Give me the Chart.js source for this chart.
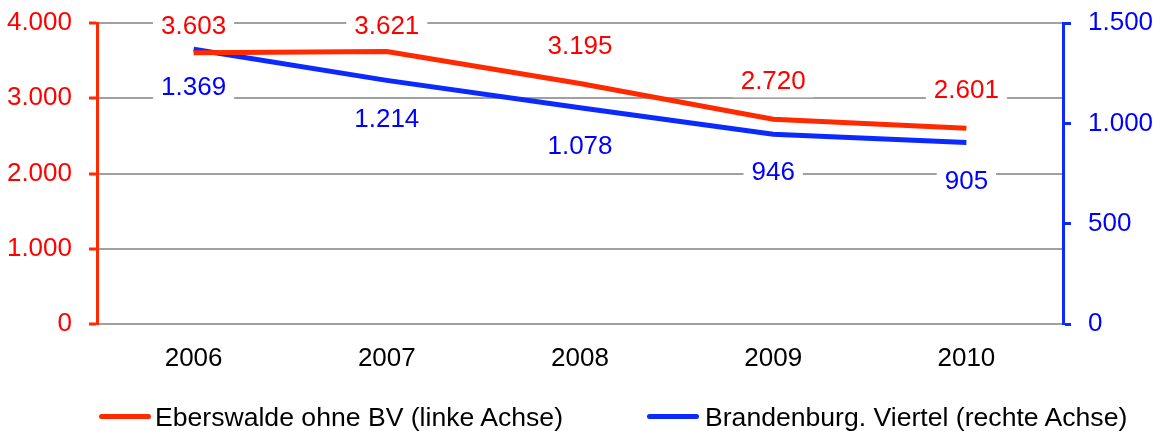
<!DOCTYPE html>
<html>
<head>
<meta charset="utf-8">
<script src="https://cdn.jsdelivr.net/npm/chart.js@4/dist/chart.umd.min.js"></script>
<style>
  html, body { margin: 0; padding: 0; background: #fff; }
  #wrap { position: relative; width: 1155px; height: 431px; }
  .legend-line { position: absolute; top: 414px; width: 52px; height: 5px; border-radius: 3px; }
  .legend-text { position: absolute; top: 403px; font: 26.6px "Liberation Sans", Arial, sans-serif; color: #000; line-height: 28px; white-space: nowrap; }
</style>
</head>
<body>
<div id="wrap">
  <canvas id="chart" width="1155" height="431"></canvas>
  <div class="legend-line" style="left:99px;background:#ff2a00"></div>
  <div class="legend-text" style="left:155px">Eberswalde ohne BV (linke Achse)</div>
  <div class="legend-line" style="left:647px;background:#0a2aff"></div>
  <div class="legend-text" style="left:705px">Brandenburg. Viertel (rechte Achse)</div>
</div>
<script>
// --- data ---
const years = ["2006", "2007", "2008", "2009", "2010"];
const eberswalde = [3603, 3621, 3195, 2720, 2601]; // left axis
const brandenburg = [1369, 1214, 1078, 946, 905];  // right axis
const leftTicks = [0, 1000, 2000, 3000, 4000];
const rightTicks = [0, 500, 1000, 1500];

const FONT = '"Liberation Sans", Arial, sans-serif';
const NUM_SIZE = 26;

// German thousands separator
function fmt(v) {
  return String(v).replace(/\B(?=(\d{3})+(?!\d))/g, ".");
}

// value labels with white boxes, red above, blue below
const valueLabels = {
  id: "valueLabels",
  labelPos(chart, i, pt) {
    const top = chart.chartArea.top;
    return i === 0 ? Math.max(pt.y - 37, top + 4) : pt.y + 39;
  },
  beforeDatasetsDraw(chart) {
    const ctx = chart.ctx;
    ctx.save();
    ctx.font = NUM_SIZE + "px " + FONT;
    chart.data.datasets.forEach((ds, i) => {
      chart.getDatasetMeta(i).data.forEach((pt, j) => {
        const y = this.labelPos(chart, i, pt);
        const w = ctx.measureText(fmt(ds.data[j])).width;
        ctx.fillStyle = "#fff";
        ctx.fillRect(pt.x - w / 2 - 8, y - 15, w + 16, 30);
      });
    });
    ctx.restore();
  },
  afterDatasetsDraw(chart) {
    const ctx = chart.ctx;
    ctx.save();
    ctx.font = NUM_SIZE + "px " + FONT;
    ctx.textAlign = "center";
    ctx.textBaseline = "middle";
    chart.data.datasets.forEach((ds, i) => {
      chart.getDatasetMeta(i).data.forEach((pt, j) => {
        const y = this.labelPos(chart, i, pt);
        ctx.fillStyle = ds.labelColor;
        ctx.fillText(fmt(ds.data[j]), pt.x, y);
      });
    });
    ctx.restore();
  },
};

new Chart(document.getElementById("chart"), {
  type: "line",
  data: {
    labels: years,
    datasets: [
      {
        label: "Eberswalde ohne BV (linke Achse)",
        data: eberswalde,
        yAxisID: "yL",
        borderColor: "#ff2a00",
        labelColor: "#ff0000",
        borderWidth: 5,
        pointRadius: 0,
        tension: 0,
      },
      {
        label: "Brandenburg. Viertel (rechte Achse)",
        data: brandenburg,
        yAxisID: "yR",
        borderColor: "#0a2aff",
        labelColor: "#0000ff",
        borderWidth: 5,
        pointRadius: 0,
        tension: 0,
      },
    ],
  },
  options: {
    responsive: false,
    animation: false,
    layout: { padding: { top: 23, bottom: 57, left: 0, right: 0 } },
    plugins: { legend: { display: false }, tooltip: { enabled: false } },
    scales: {
      x: {
        offset: true,
        grid: { display: false },
        border: { display: false },
        ticks: { color: "#000", font: { family: FONT, size: NUM_SIZE }, padding: 11 },
        afterFit(s) { s.height = 50; },
      },
      yL: {
        position: "left",
        min: 0,
        max: 4000,
        afterBuildTicks(s) { s.ticks = leftTicks.map(v => ({ value: v })); },
        ticks: { color: "#ff0000", font: { family: FONT, size: NUM_SIZE }, padding: 17, callback: v => fmt(v) },
        grid: { color: "#a0a0a0", lineWidth: 2, tickColor: "#ff2a00", tickLength: 8, tickWidth: 3 },
        border: { color: "#ff2a00", width: 3 },
        afterFit(s) { s.width = 97; s.paddingTop = 0; s.paddingBottom = 0; },
      },
      yR: {
        position: "right",
        min: 0,
        max: 1500,
        afterBuildTicks(s) { s.ticks = rightTicks.map(v => ({ value: v })); },
        ticks: { color: "#0000ff", font: { family: FONT, size: NUM_SIZE }, padding: 17, callback: v => fmt(v) },
        grid: { drawOnChartArea: false, tickColor: "#0a2aff", tickLength: 8, tickWidth: 3 },
        border: { color: "#0a2aff", width: 3 },
        afterFit(s) { s.width = 92; s.paddingTop = 0; s.paddingBottom = 0; },
      },
    },
  },
  plugins: [valueLabels],
});
</script>
</body>
</html>
